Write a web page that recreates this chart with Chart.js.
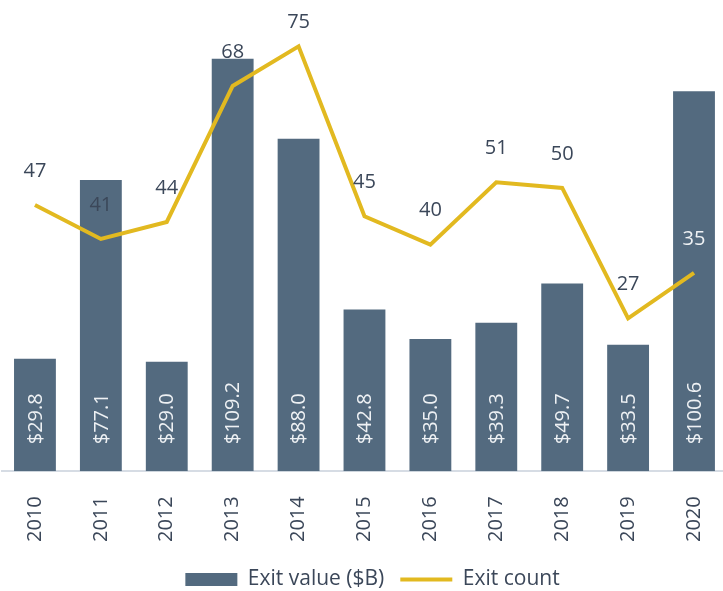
<!DOCTYPE html>
<html>
<head>
<meta charset="utf-8">
<script src="https://cdn.jsdelivr.net/npm/chart.js@4.4.1/dist/chart.umd.min.js"></script>
<style>
    html, body { margin: 0; padding: 0; background: #ffffff; overflow: hidden; }
    #wrap { width: 743px; height: 591px; }
</style>
</head>
<body>
<div id="wrap"><canvas id="exits" width="743" height="591"></canvas></div>
<script>
const YEARS = ['2010', '2011', '2012', '2013', '2014', '2015', '2016', '2017', '2018', '2019', '2020'];
const EXIT_VALUE = [29.8, 77.1, 29.0, 109.2, 88.0, 42.8, 35.0, 39.3, 49.7, 33.5, 100.6];
const EXIT_COUNT = [47, 41, 44, 68, 75, 45, 40, 51, 50, 27, 35];

const BAR_COLOR = '#536a7f';
const LINE_COLOR = '#e2b920';
const TEXT_COLOR = '#3b4759';
const FONT = '"Open Sans", "Noto Sans", sans-serif';

// labels on the bars (rotated) and above the line points
const valueLabels = {
    id: 'valueLabels',
    afterDatasetsDraw(chart) {
        const ctx = chart.ctx;
        const barMeta = chart.getDatasetMeta(0);
        const lineMeta = chart.getDatasetMeta(1);
        const base = chart.scales.y.getPixelForValue(0);

        ctx.save();
        ctx.font = '20px ' + FONT;
        ctx.fillStyle = '#eef1f4';
        ctx.textAlign = 'left';
        ctx.textBaseline = 'middle';
        barMeta.data.forEach((bar, i) => {
            ctx.save();
            ctx.translate(bar.x, base - 27);
            ctx.rotate(-Math.PI / 2);
            ctx.fillText('$' + EXIT_VALUE[i].toFixed(1), 0, 1);
            ctx.restore();
        });

        ctx.font = '20px ' + FONT;
        ctx.textAlign = 'center';
        lineMeta.data.forEach((pt, i) => {
            const onBar = i === EXIT_COUNT.length - 1;
            ctx.fillStyle = onBar ? '#eef1f4' : TEXT_COLOR;
            const y = Math.max(pt.y - 34, 22);
            ctx.fillText(String(EXIT_COUNT[i]), pt.x, y);
        });
        ctx.restore();
    },
};

new Chart(document.getElementById('exits'), {
    type: 'bar',
    data: {
        labels: YEARS,
        datasets: [
            {
                type: 'bar',
                label: 'Exit value ($B)',
                data: EXIT_VALUE,
                backgroundColor: BAR_COLOR,
                borderWidth: 0,
                barPercentage: 0.635,
                categoryPercentage: 1,
                yAxisID: 'y',
                order: 1,
                pointStyle: 'rect',
            },
            {
                type: 'line',
                label: 'Exit count',
                data: EXIT_COUNT,
                borderColor: LINE_COLOR,
                backgroundColor: LINE_COLOR,
                borderWidth: 4,
                pointRadius: 0,
                tension: 0,
                fill: false,
                yAxisID: 'y1',
                order: 0,
                pointStyle: 'line',
            },
        ],
    },
    options: {
        responsive: false,
        animation: false,
        layout: { padding: { left: 2, right: 0, top: 18, bottom: -9 } },
        scales: {
            x: {
                grid: { display: false, drawTicks: false },
                border: { display: true, color: '#d6dce4', width: 2 },
                ticks: {
                    color: TEXT_COLOR,
                    font: { family: FONT, size: 20 },
                    minRotation: 90,
                    maxRotation: 90,
                    padding: 25,
                },
                afterFit(scale) { scale.height -= 14; },
            },
            y: { display: false, min: 0, max: 120 },
            y1: { display: false, min: 0, max: 80 },
        },
        plugins: {
            tooltip: { enabled: false },
            legend: {
                position: 'bottom',
                labels: {
                    usePointStyle: true,
                    pointStyleWidth: 52,
                    boxHeight: 13,
                    padding: 16,
                    color: TEXT_COLOR,
                    font: { family: FONT, size: 21 },
                    sort: (a, b) => a.datasetIndex - b.datasetIndex,
                },
            },
        },
    },
    plugins: [valueLabels],
});
</script>
</body>
</html>
